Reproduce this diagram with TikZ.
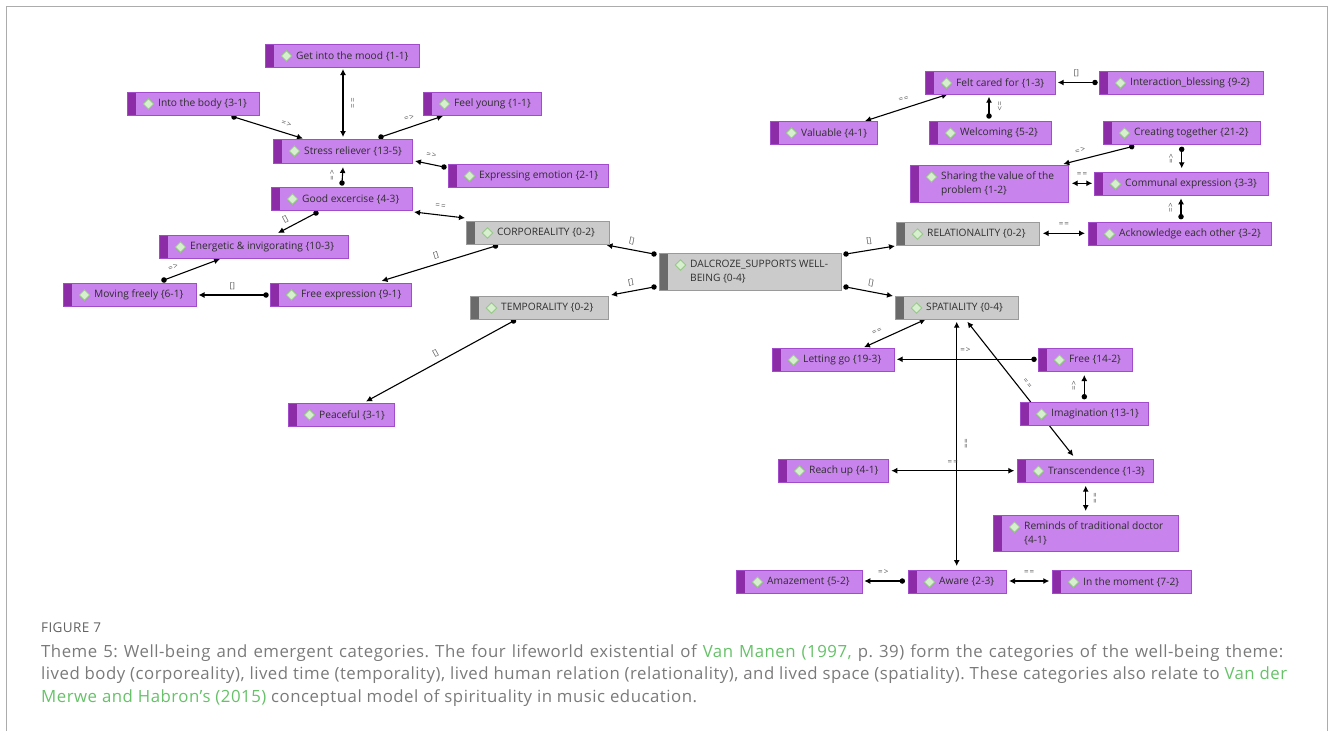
\documentclass[tikz,border=0pt]{standalone}
\usepackage{fontspec}
\usepackage{graphicx}
\setmainfont{Open Sans}
\newfontfamily\capfont{Open Sans}[LetterSpace=3]
\usetikzlibrary{arrows.meta,backgrounds}

\definecolor{pfill}{HTML}{C883EC}
\definecolor{pline}{HTML}{A24CCB}
\definecolor{pstripe}{HTML}{8C2CA6}
\definecolor{gfill}{HTML}{CBCBCB}
\definecolor{gline}{HTML}{9A9A9A}
\definecolor{gstripe}{HTML}{6A6A6A}
\definecolor{dfill}{HTML}{D8EFCF}
\definecolor{dline}{HTML}{96C987}
\definecolor{ink}{HTML}{2E2E2E}
\definecolor{lblink}{HTML}{555555}
\definecolor{capgray}{HTML}{7A7A7A}
\definecolor{capgreen}{HTML}{66C168}
\definecolor{framegray}{HTML}{ACACAC}

\tikzset{
  deco/.style={path picture={
      \fill[#1] (path picture bounding box.north west) rectangle ([xshift=8pt]path picture bounding box.south west);
      \filldraw[fill=dfill, draw=dline, line width=0.8pt]
        ([xshift=21pt,yshift=-11.5pt]path picture bounding box.north west)
        ++(0,5.2pt) -- ++(5.2pt,-5.2pt) -- ++(-5.2pt,-5.2pt) -- ++(-5.2pt,5.2pt) -- cycle;}},
  cbox/.style={rectangle, inner sep=0pt, anchor=north west, line width=1pt},
  purp/.style={cbox, draw=pline, fill=pfill, deco=pstripe},
  cat/.style={cbox, draw=gline, fill=gfill, deco=gstripe},
  ctext/.style={anchor=west, inner sep=0pt, align=left, text=ink, font=\fontsize{10.2}{13.8}\selectfont},
  link/.style={line width=1.1pt, black},
  dot/.style={link, {Circle[length=5.4pt]}-{Latex[length=6pt,width=6pt]}, shorten <=-2.7pt},
  two/.style={link, {Latex[length=6pt,width=6pt]}-{Latex[length=6pt,width=6pt]}},
  lbl/.style={font=\fontsize{8}{8}\selectfont, text=lblink, inner sep=0.5pt, text height=5pt, text depth=0.5pt},
  sl/.style={lbl, pos=#1, sloped, above=5pt},
  sl/.default=0.5,
  vr/.style={lbl, midway, xshift=10pt, rotate=#1},
  vl/.style={lbl, midway, xshift=-10pt, rotate=#1},
  captext/.style={inner sep=0pt, anchor=base west, text=capgray, font=\capfont\fontsize{16.8}{20}\selectfont\frenchspacing},
}

% code box: style, name, left, top, right, bottom, text
\newcommand\cbx[7]{%
  \node[#1, minimum width={(#5-#3)*1pt}, minimum height={(#6-#4)*1pt}] (#2) at (#3,#4) {};
  \node[ctext] (#2-t) at ([xshift=31pt]#2.west) {#7};
}

% a justified caption line: spread the spaces, or narrow it if too long
\newlength\capw
\newcommand\fitline[2]{%
  \settowidth\capw{#2}%
  \ifdim\capw<#1\relax
    \makebox[#1][s]{#2}%
  \else
    \pgfmathsetmacro\capsx{#1/\capw}%
    \scalebox{\capsx}[1]{#2}%
  \fi}

\begin{document}
\begin{tikzpicture}[x=1pt, y=-1pt]
\useasboundingbox (0,0) rectangle (1330,731);

% frame
\draw[framegray, line width=1.6pt] (6.5,731) -- (6.5,6.5) -- (1327.5,6.5) -- (1327.5,731);

% corporeality / temporality side
\cbx{purp}{mood}{265}{44}{419}{67}{Get into the mood \{1-1\}}
\cbx{purp}{body}{127}{92}{259}{115}{Into the body \{3-1\}}
\cbx{purp}{young}{423}{92}{541}{115}{Feel young \{1-1\}}
\cbx{purp}{stress}{273}{139}{412}{163}{Stress reliever \{13-5\}}
\cbx{purp}{express}{448}{164}{608}{187}{Expressing emotion \{2-1\}}
\cbx{purp}{good}{271}{187}{412}{210}{Good excercise \{4-3\}}
\cbx{cat}{corp}{466}{221}{609}{244}{CORPOREALITY \{0-2\}}
\cbx{purp}{energ}{159}{235}{348}{258}{Energetic \& invigorating \{10-3\}}
\cbx{purp}{moving}{63}{283}{196}{306}{Moving freely \{6-1\}}
\cbx{purp}{freeex}{270}{283}{411}{306}{Free expression \{9-1\}}
\cbx{cat}{temp}{470}{296}{608}{319}{TEMPORALITY \{0-2\}}
\cbx{purp}{peace}{288}{403}{394}{426}{Peaceful \{3-1\}}
\cbx{cat}{dal}{659}{253}{841}{290}{DALCROZE\_SUPPORTS WELL-\\BEING \{0-4\}}

% relationality side
\cbx{purp}{felt}{925}{71}{1055}{94}{Felt cared for \{1-3\}}
\cbx{purp}{inter}{1099}{71}{1263}{94}{Interaction\_blessing \{9-2\}}
\cbx{purp}{valu}{770}{121}{877}{144}{Valuable \{4-1\}}
\cbx{purp}{welc}{929}{121}{1051}{144}{Welcoming \{5-2\}}
\cbx{purp}{creat}{1103}{121}{1260}{144}{Creating together \{21-2\}}
\cbx{purp}{share}{910}{165}{1068}{202}{Sharing the value of the\\problem \{1-2\}}
\cbx{purp}{comm}{1094}{172}{1268}{195}{Communal expression \{3-3\}}
\cbx{cat}{rel}{896}{222}{1039}{245}{RELATIONALITY \{0-2\}}
\cbx{purp}{ack}{1088}{222}{1271}{245}{Acknowledge each other \{3-2\}}

% spatiality side
\cbx{cat}{spat}{895}{296}{1018}{319}{SPATIALITY \{0-4\}}
\cbx{purp}{letgo}{772}{348}{894}{371}{Letting go \{19-3\}}
\cbx{purp}{free}{1038}{348}{1132}{371}{Free \{14-2\}}
\cbx{purp}{imag}{1020}{402}{1148}{425}{Imagination \{13-1\}}
\cbx{purp}{reach}{778}{459}{888}{482}{Reach up \{4-1\}}
\cbx{purp}{trans}{1017}{459}{1153}{482}{Transcendence \{1-3\}}
\cbx{purp}{remind}{993}{515}{1178}{551}{Reminds of traditional doctor\\\{4-1\}}
\cbx{purp}{amaz}{736}{570}{862}{593}{Amazement \{5-2\}}
\cbx{purp}{aware}{908}{570}{1006}{593}{Aware \{2-3\}}
\cbx{purp}{moment}{1052}{570}{1191}{593}{In the moment \{7-2\}}

\begin{pgfonlayer}{background}
% left cluster
\draw[two] ([shift={(78,25)}]mood.north west) -- ([shift={(70,-2)}]stress.north west) node[vr=90] {=\kern1pt=};
\draw[dot] ([shift={(107,25)}]body.north west) -- ([shift={(30,-0.5)}]stress.north west) node[sl=0.72] {=\kern1pt>};
\draw[dot] ([shift={(108,-2)}]stress.north west) -- ([shift={(20,24)}]young.north west) node[sl] {=\kern1pt>};
\draw[dot] ([shift={(-4,3)}]express.north west) -- ([shift={(142,22)}]stress.north west) node[sl] {=\kern1pt>};
\draw[dot] ([shift={(71,-4)}]good.north west) -- ([shift={(70,28)}]stress.north west) node[vl=90] {=\kern1pt>};
\draw[two] ([shift={(143,25)}]good.north west) -- ([shift={(-1,-3)}]corp.north west) node[sl] {=\kern1pt=};
\draw[dot] ([shift={(45,26)}]good.north west) -- ([shift={(119,-2)}]energ.north west) node[sl=0.7] {[]};
\draw[dot] ([shift={(101,-3)}]moving.north west) -- ([shift={(61,24)}]energ.north west) node[sl=0.22] {=\kern1pt>};
\draw[dot] ([shift={(-4,12)}]freeex.north west) -- ([shift={(135.5,12)}]moving.north west) node[sl] {[]};
\draw[dot] ([shift={(29.5,25)}]corp.north west) -- ([shift={(111.5,-2)}]freeex.north west) node[sl] {[]};
\draw[dot] ([shift={(-5,1)}]dal.north west) -- ([shift={(140.5,24)}]corp.north west) node[sl] {[]};
\draw[dot] ([shift={(-5,34)}]dal.north west) -- ([shift={(141,-1)}]temp.north west) node[sl] {[]};
\draw[dot] ([shift={(43.5,25)}]temp.north west) -- ([shift={(78,-1.5)}]peace.north west) node[sl] {[]};
\draw[dot] ([shift={(187,1)}]dal.north west) -- ([shift={(-1,24)}]rel.north west) node[sl] {[]};
\draw[dot] ([shift={(187,34)}]dal.north west) -- ([shift={(-2,0)}]spat.north west) node[sl] {[]};
% relationality cluster
\draw[dot] ([shift={(-4,11.5)}]inter.north west) -- ([shift={(132.7,11.5)}]felt.north west) node[sl] {[]};
\draw[two] ([shift={(22.7,23.3)}]felt.north west) -- ([shift={(95,0)}]valu.north west) node[sl] {=\kern1pt=};
\draw[dot] ([shift={(60,-5)}]welc.north west) -- ([shift={(64,25.7)}]felt.north west) node[vr=-90] {=\kern1pt>};
\draw[dot] ([shift={(28.7,25.7)}]creat.north west) -- ([shift={(153.3,-1)}]share.north west) node[sl=0.72] {=\kern1pt>};
\draw[dot] ([shift={(78.7,28.3)}]creat.north west) -- ([shift={(87.7,-3.7)}]comm.north west) node[vl=90] {=\kern1pt>};
\draw[two] ([shift={(161.7,18.3)}]share.north west) -- ([shift={(-1.7,11.3)}]comm.north west) node[sl] {=\kern1pt=};
\draw[dot] ([shift={(93,-5.3)}]ack.north west) -- ([shift={(87,26.3)}]comm.north west) node[vl=90] {=\kern1pt>};
\draw[two] ([shift={(146.7,11.3)}]rel.north west) -- ([shift={(-3,11.3)}]ack.north west) node[sl] {=\kern1pt=};
% spatiality cluster
\draw[two] ([shift={(30.7,23.3)}]spat.north west) -- ([shift={(92,-0.7)}]letgo.north west) node[sl=0.73] {=\kern1pt=};
\draw[dot] ([shift={(-4,11.3)}]free.north west) -- ([shift={(124.7,11.3)}]letgo.north west) node[sl] {=\kern1pt>};
\draw[two] ([shift={(61.7,25.7)}]spat.north west) -- ([shift={(48.7,-4)}]aware.north west) node[vr=90] {=\kern1pt=};
\draw[two] ([shift={(56.3,-3)}]trans.north west) -- ([shift={(72.3,25.7)}]spat.north west) node[sl] {=\kern1pt=};
\draw[dot] ([shift={(64.3,-5.3)}]imag.north west) -- ([shift={(46.3,27)}]free.north west) node[vl=90] {=\kern1pt>};
\draw[two] ([shift={(113.3,11.7)}]reach.north west) -- ([shift={(-2.7,11.7)}]trans.north west) node[sl] {=\kern1pt=};
\draw[two] ([shift={(68.7,26.7)}]trans.north west) -- ([shift={(92.7,-4)}]remind.north west) node[vr=90] {=\kern1pt=};
\draw[dot] ([shift={(-5.7,11)}]aware.north west) -- ([shift={(128.3,11)}]amaz.north west) node[sl] {=\kern1pt>};
\draw[two] ([shift={(101,11)}]aware.north west) -- ([shift={(-2.7,11)}]moment.north west) node[sl] {=\kern1pt=};
\end{pgfonlayer}

% caption
\node[captext, font=\capfont\fontsize{13.5}{15}\selectfont, text=capgray!80!black] (fig) at (41,632) {FIGURE 7};
\node[captext] (cap1) at (41,657) {\fitline{1242pt}{Theme 5: Well-being and emergent categories. The four lifeworld existential of \textcolor{capgreen}{Van Manen (1997,} p. 39) form the categories of the well-being theme:}};
\node[captext] (cap2) at (41,679.5) {\fitline{1246pt}{lived body (corporeality), lived time (temporality), lived human relation (relationality), and lived space (spatiality). These categories also relate to \textcolor{capgreen}{Van der}}};
\node[captext] (cap3) at (41,702) {\textcolor{capgreen}{Merwe and Habron’s (2015)} conceptual model of spirituality in music education.};
\end{tikzpicture}
\end{document}
